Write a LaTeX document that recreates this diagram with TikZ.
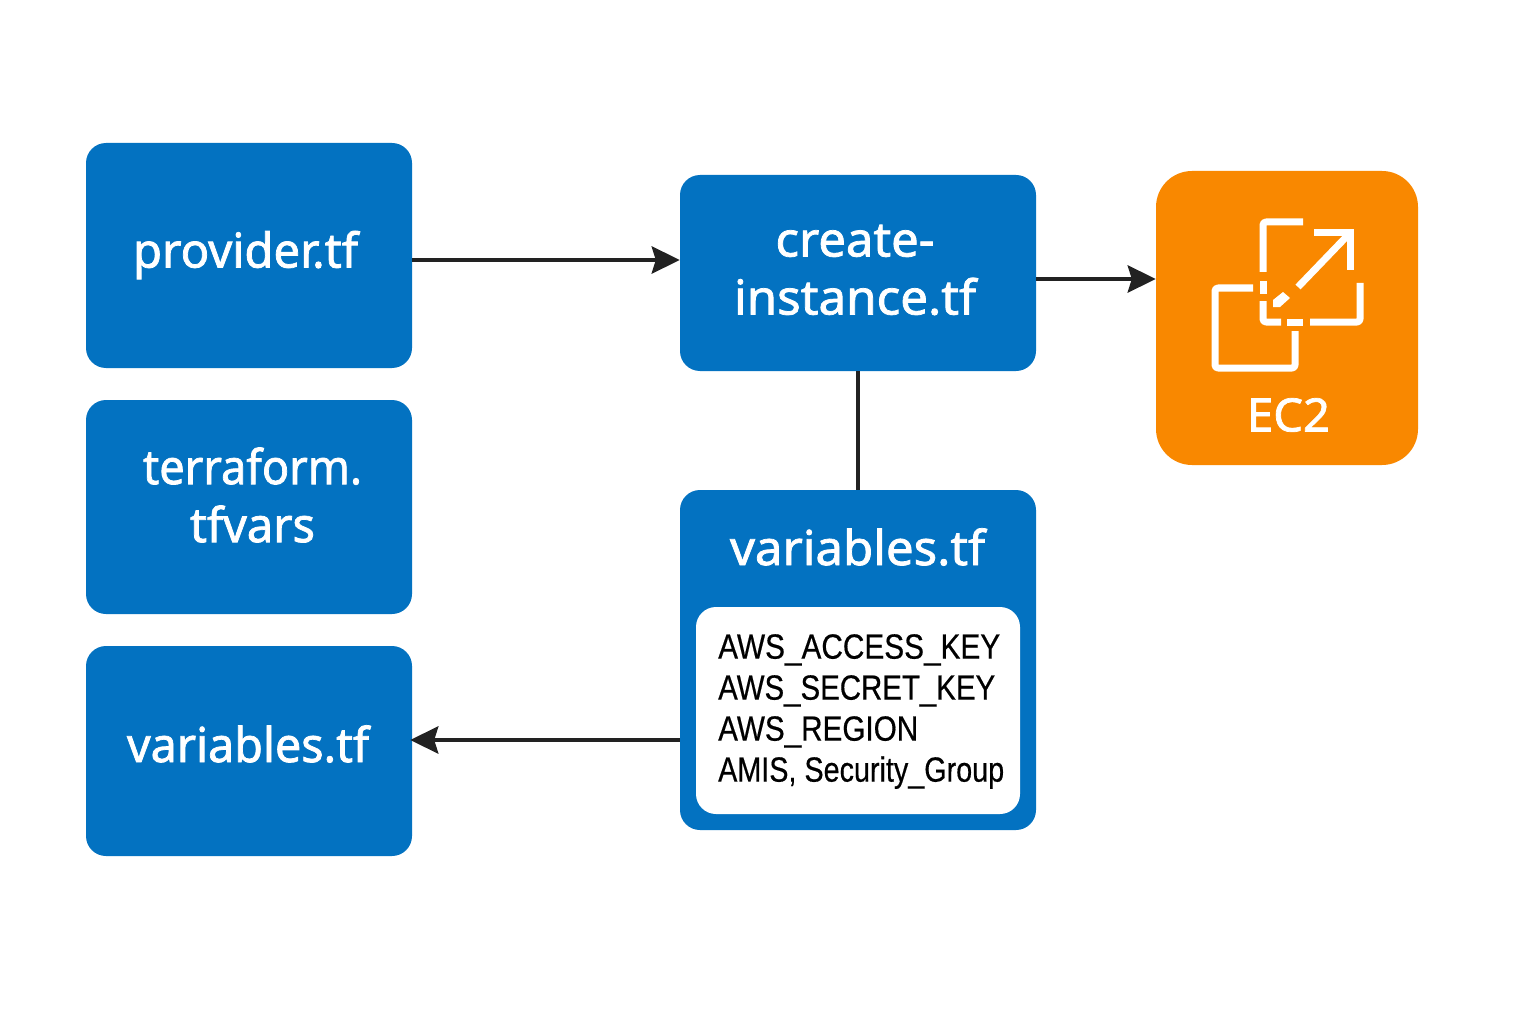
\documentclass[tikz,border=0pt]{standalone}
\usepackage{fontspec}
\usepackage{graphicx}
\setmainfont[FakeBold=1.6]{Noto Sans}
\newfontfamily\listfont[FakeBold=0.5]{Liberation Sans}
\usetikzlibrary{arrows.meta}
\definecolor{fileblue}{HTML}{0372C1}
\definecolor{ecorange}{HTML}{F98800}
\definecolor{wire}{HTML}{222222}
\newcommand{\fitw}[2]{\resizebox{#1pt}{\height}{#2}}
\tikzset{
  x=1pt,y=-1pt,
  filebox/.style={fill=fileblue,draw=none,rounded corners=20pt,inner sep=0pt,minimum width=#1},
  filebox/.default=326pt,
  boxtext/.style={text=white,font=\fontsize{48}{58}\selectfont,align=center,inner sep=0pt},
  listtext/.style={text=black,font=\listfont\fontsize{35}{41}\selectfont,align=left,inner sep=0pt,anchor=north west},
  wireline/.style={draw=wire,line width=4.5pt},
  wirearrow/.style={wireline,-{Stealth[length=28pt,width=27pt,inset=4pt]}},
  iconline/.style={draw=white,line width=7pt,line cap=butt,line join=round,rounded corners=3pt}
}
\begin{document}
\begin{tikzpicture}
\useasboundingbox (0,0) rectangle (1536,1024);
\fill[white] (0,0) rectangle (1536,1024);
% boxes
\node[filebox,minimum height=225pt] (provider) at (249,255.5) {};
\node[filebox,minimum height=214pt] (tfvars) at (249,507) {};
\node[filebox,minimum height=210pt] (varleft) at (249,751) {};
\node[filebox=356pt,minimum height=196pt] (create) at (858,273) {};
\node[filebox=356pt,minimum height=340pt] (varright) at (858,660) {};
\node[fill=white,rounded corners=20pt,inner sep=0pt,minimum width=324pt,minimum height=207pt] (varlist) at (858,710.5) {};
\node[fill=ecorange,rounded corners=36pt,inner sep=0pt,minimum width=262pt,minimum height=294pt] (ec2) at (1287,318) {};
% labels
\node[boxtext] (providerlabel) at (245.5,255) {\fitw{225}{provider.tf}};
\node[boxtext] (tfvarslabel) at (252.5,495) {\fitw{219}{terraform.}\\\fitw{125}{tfvars}};
\node[boxtext] (varleftlabel) at (248,744) {\fitw{242}{variables.tf}};
\node[boxtext] (createlabel) at (855,270) {\fitw{159}{create-}\\\fitw{242}{instance.tf}};
\node[boxtext] (varrightlabel) at (857.5,547) {\fitw{255}{variables.tf}};
\node[listtext] (listlabel) at (718,634) {\fitw{282}{AWS\_ACCESS\_KEY}\\\fitw{277}{AWS\_SECRET\_KEY}\\\fitw{200}{AWS\_REGION}\\\fitw{286}{AMIS, Security\_Group}};
\node[text=white,font=\fontsize{46}{46}\selectfont,inner sep=0pt] (ec2label) at (1288.5,415) {\fitw{83}{EC2}};
% connectors
\draw[wirearrow] (provider.east |- 0,260) -- (create.west |- 0,260);
\draw[wirearrow] (create.east |- 0,279) -- (ec2.west |- 0,279);
\draw[wireline] (create.south -| 858,0) -- (varright.north -| 858,0);
\draw[wirearrow,shorten >=-2pt] (varright.west |- 0,740) -- (varleft.east |- 0,740);
% EC2 icon
\draw[iconline] (1303,222) -- (1263,222) -- (1263,272);
\draw[iconline] (1263,281) -- (1263,294);
\draw[iconline] (1263,301) -- (1263,322) -- (1281,322);
\draw[iconline] (1287,322) -- (1303,322);
\draw[iconline] (1310,322) -- (1360,322) -- (1360,283);
\draw[iconline] (1253,288) -- (1215,288) -- (1215,368) -- (1295,368) -- (1295,331);
\draw[iconline,rounded corners=0pt,line join=miter] (1314,233) -- (1350,233) -- (1350,270);
\draw[iconline,rounded corners=0pt] (1298,287) -- (1349,234);
\fill[white] (1273,307) -- (1273,300) -- (1283,292) -- (1290,298) -- (1280,307) -- cycle;
\end{tikzpicture}
\end{document}
